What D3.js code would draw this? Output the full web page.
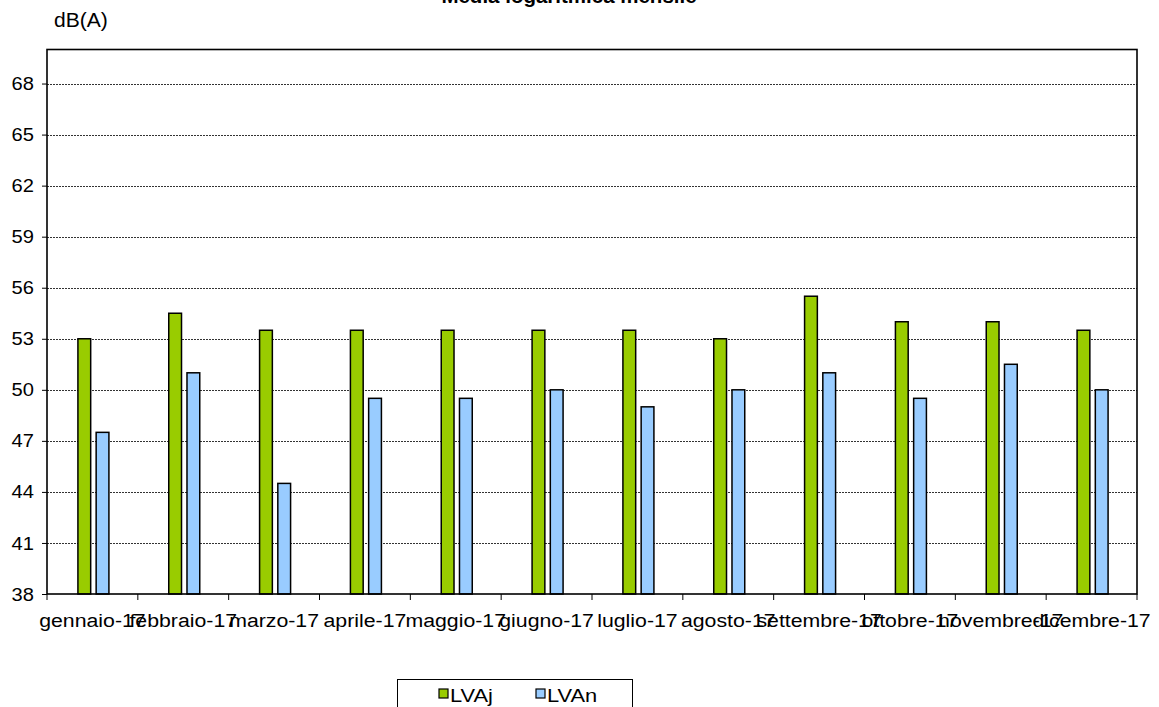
<!DOCTYPE html>
<html>
<head>
<meta charset="utf-8">
<script src="https://cdn.jsdelivr.net/npm/d3@7"></script>
<style>
  html, body { margin: 0; padding: 0; background: #fff; }
  svg { display: block; font-family: "Liberation Sans", Arial, sans-serif; }
</style>
</head>
<body>
<div id="chart"></div>
<script>
"use strict";

// months shown on the x axis
const months = [
  "gennaio-17", "febbraio-17", "marzo-17", "aprile-17", "maggio-17", "giugno-17",
  "luglio-17", "agosto-17", "settembre-17", "ottobre-17", "novembre-17", "dicembre-17",
];

const seriesNames = ["LVAj", "LVAn"];
const lvaj = [53, 54.5, 53.5, 53.5, 53.5, 53.5, 53.5, 53, 55.5, 54, 54, 53.5];
const lvan = [47.5, 51, 44.5, 49.5, 49.5, 50, 49, 50, 51, 49.5, 51.5, 50];
const yTicks = [38, 41, 44, 47, 50, 53, 56, 59, 62, 65, 68];

const colors = { LVAj: "#99cc00", LVAn: "#99ccff" };

const W = 1159, H = 707;
const plot = { left: 47, right: 1137, top: 49.5, bottom: 594 };

function draw() {
  const svg = d3.select("#chart").append("svg")
    .attr("width", W).attr("height", H);

  const x = d3.scaleBand()
    .domain(months)
    .range([plot.left, plot.right]);

  const bw = x.bandwidth();
  const inner = d3.scaleBand()
    .domain(seriesNames)
    .range([bw / 2 - 14.5, bw / 2 + 16.5])
    .paddingInner(0.3);

  const y = d3.scaleLinear()
    .domain([38, 70])
    .range([plot.bottom, plot.top]);

  // grid lines
  svg.append("g")
    .selectAll("line")
    .data(yTicks.filter((t) => t > 38))
    .enter()
    .append("line")
    .attr("x1", plot.left).attr("x2", plot.right)
    .attr("y1", (d) => Math.round(y(d)) + 0.5)
    .attr("y2", (d) => Math.round(y(d)) + 0.5)
    .attr("stroke", "#333")
    .attr("stroke-width", 1)
    .attr("stroke-dasharray", "2,1");

  // bars
  const rows = months.map((m, i) => ({ month: m, LVAj: lvaj[i], LVAn: lvan[i] }));
  const groups = svg.append("g")
    .selectAll("g")
    .data(rows)
    .enter()
    .append("g")
    .attr("transform", (d) => `translate(${x(d.month)},0)`);

  groups.selectAll("rect")
    .data((d) => seriesNames.map((s) => ({ key: s, value: d[s] })))
    .enter()
    .append("rect")
    .attr("x", (d) => inner(d.key))
    .attr("y", (d) => y(d.value))
    .attr("width", inner.bandwidth())
    .attr("height", (d) => y(38) - y(d.value))
    .attr("fill", (d) => colors[d.key])
    .attr("stroke", "#000")
    .attr("stroke-width", 1.5);

  // plot frame
  svg.append("rect")
    .attr("x", plot.left).attr("y", plot.top)
    .attr("width", plot.right - plot.left)
    .attr("height", plot.bottom - plot.top)
    .attr("fill", "none")
    .attr("stroke", "#000")
    .attr("stroke-width", 1.6);

  // y axis
  const yAxis = svg.append("g")
    .attr("transform", `translate(${plot.left},0)`)
    .call(d3.axisLeft(y).tickValues(yTicks).tickSize(5).tickPadding(8).tickFormat(d3.format("d")));
  yAxis.select(".domain").remove();
  yAxis.selectAll("line").attr("stroke", "#000");
  yAxis.selectAll("text")
    .attr("x", null)
    .attr("transform", "translate(-13,0) scale(1.06,1)")
    .attr("font-size", "19px")
    .attr("fill", "#000")
    .attr("font-family", "Liberation Sans, Arial, sans-serif");

  // x axis: ticks on band edges, labels centred under bands
  const edges = months.map((m) => x(m)).concat([plot.right]);
  svg.append("g")
    .selectAll("line")
    .data(edges)
    .enter()
    .append("line")
    .attr("x1", (d) => d).attr("x2", (d) => d)
    .attr("y1", plot.bottom).attr("y2", plot.bottom + 6)
    .attr("stroke", "#000");

  svg.append("g")
    .selectAll("text")
    .data(months)
    .enter()
    .append("text")
    .attr("transform", (d) => `translate(${x(d) + bw / 2},627) scale(1.12,1)`)
    .attr("text-anchor", "middle")
    .attr("font-size", "19px")
    .attr("fill", "#000")
    .text((d) => d);

  // unit label and title
  svg.append("text")
    .attr("transform", "translate(54,27) scale(1.08,1)")
    .attr("font-size", "19.5px")
    .text("dB(A)");

  svg.append("text")
    .attr("x", 569).attr("y", 3)
    .attr("text-anchor", "middle")
    .attr("font-size", "20.5px")
    .attr("font-weight", "bold")
    .text("Media logaritmica mensile");

  drawLegend(svg);
}

function drawLegend(svg) {
  const legend = svg.append("g").attr("id", "legend");
  legend.append("rect")
    .attr("x", 397.5).attr("y", 679.5)
    .attr("width", 235).attr("height", 40)
    .attr("fill", "#fff")
    .attr("stroke", "#000")
    .attr("stroke-width", 1);

  const lx = d3.scaleOrdinal().domain(seriesNames).range([439, 536]);

  legend.selectAll("rect.key")
    .data(seriesNames)
    .enter()
    .append("rect")
    .attr("class", "key")
    .attr("x", (d) => lx(d)).attr("y", 689)
    .attr("width", 9).attr("height", 9)
    .attr("fill", (d) => colors[d])
    .attr("stroke", "#000")
    .attr("stroke-width", 1.2);

  legend.selectAll("text")
    .data(seriesNames)
    .enter()
    .append("text")
    .attr("transform", (d) => `translate(${lx(d) + 11},702) scale(1.15,1)`)
    .attr("font-size", "19px")
    .text((d) => d);
}

draw();
</script>
</body>
</html>
